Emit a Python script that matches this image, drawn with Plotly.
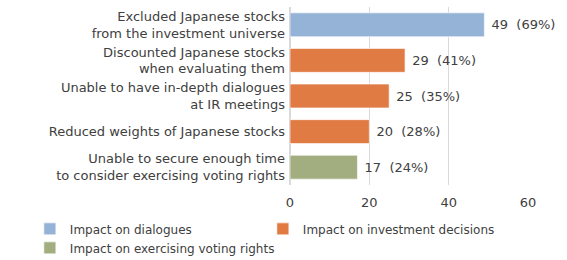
import plotly.graph_objects as go

categories = [
    "Excluded Japanese stocks<br>from the investment universe",
    "Discounted Japanese stocks<br>when evaluating them",
    "Unable to have in-depth dialogues<br>at IR meetings",
    "Reduced weights of Japanese stocks",
    "Unable to secure enough time<br>to consider exercising voting rights",
]
values = [49, 29, 25, 20, 17]
percents = ["69%", "41%", "35%", "28%", "24%"]
groups = ["Impact on dialogues", "Impact on investment decisions",
          "Impact on investment decisions", "Impact on investment decisions",
          "Impact on exercising voting rights"]
group_names = ["Impact on dialogues", "Impact on investment decisions",
               "Impact on exercising voting rights"]
group_colors = ["#95B3D7", "#E07B44", "#A3AE80"]
tick_vals = [0, 20, 40, 60]

FONT = "DejaVu Sans"
TXT = "#404040"

fig = go.Figure()
for name, color in zip(group_names, group_colors):
    ys, xs, ts = [], [], []
    for c, v, p, g in zip(categories, values, percents, groups):
        if g == name:
            ys.append(c)
            xs.append(v)
            ts.append(f"\u00a0{v}\u00a0\u00a0({p})")
    fig.add_trace(go.Bar(
        y=ys, x=xs, orientation="h", name=name,
        marker=dict(color=color, line=dict(color="rgba(255,255,255,0.6)", width=1)),
        text=ts, textposition="outside", cliponaxis=False,
        textfont=dict(family=FONT, size=13, color=TXT),
    ))

fig.update_layout(
    width=567, height=260,
    margin=dict(l=290, r=39, t=7, b=75, autoexpand=False),
    paper_bgcolor="white", plot_bgcolor="white",
    barmode="overlay", bargap=0.33,
    font=dict(family=FONT, size=13, color=TXT),
    showlegend=True,
    legend=dict(orientation="h", x=-1.093, xanchor="left", y=-0.165, yanchor="top",
                entrywidth=188, entrywidthmode="pixels",
                font=dict(family=FONT, size=12, color=TXT),
                itemwidth=30, tracegroupgap=0, traceorder="normal"),
)
fig.update_yaxes(categoryorder="array", categoryarray=categories[::-1],
                 showgrid=False, showline=False, ticks="",
                 tickfont=dict(family=FONT, size=13, color=TXT), ticklabelstandoff=4)
fig.update_xaxes(range=[0, 60], tickvals=tick_vals, showgrid=True, gridcolor="#D9D9D9",
                 gridwidth=1, zeroline=True, zerolinecolor="#D9D9D9", showline=False,
                 ticklabelstandoff=8,
                 tickfont=dict(family=FONT, size=13, color=TXT))

fig.write_html("out.html")
